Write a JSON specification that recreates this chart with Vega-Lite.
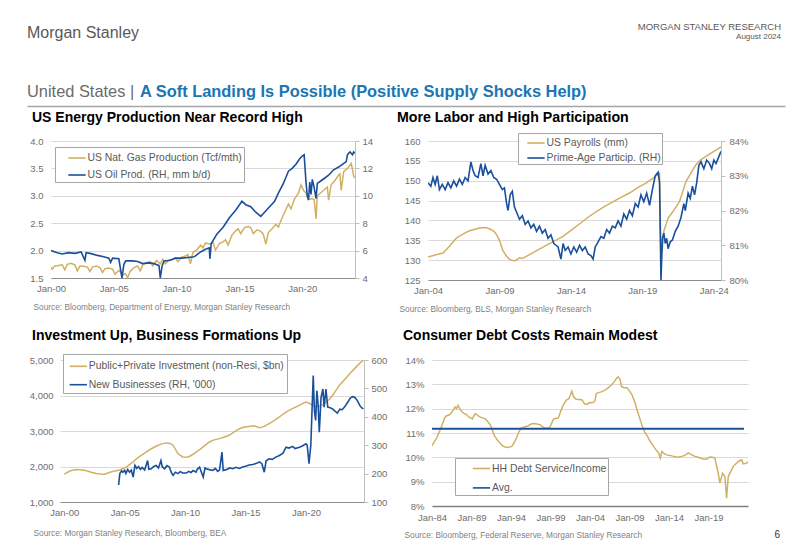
{
 "$schema": "https://vega.github.io/schema/vega-lite/v6.json",
 "background": "white",
 "padding": {"left": 27, "top": 21, "right": 10, "bottom": 5},
 "config": {
  "font": "Liberation Sans",
  "view": {"stroke": null},
  "axis": {"labelFont": "Liberation Sans", "labelColor": "#6e6e6e", "labelFontSize": 9.5, "labelOverlap": false, "labelFlush": false, "gridColor": "#d9d9d9", "domainColor": "#bfbfbf", "tickColor": "#bfbfbf", "titleFont": "Liberation Sans", "titleFontWeight": "normal", "titleColor": "#7f7f7f", "titleFontSize": 8.3},
  "legend": {"labelFont": "Liberation Sans", "labelFontSize": 10.4, "labelColor": "#595959", "labelLimit": 400, "strokeColor": "#a6a6a6", "fillColor": "white", "padding": 1.5, "symbolType": "stroke", "symbolSize": 300, "symbolStrokeWidth": 1.6, "labelOffset": 1, "rowPadding": 2, "symbolOffset": 11},
  "title": {"font": "Liberation Sans", "anchor": "start", "frame": "bounds"}
 },
 "datasets": {
  "gas": [{"t":2000.0,"v":1.70},{"t":2000.1,"v":1.66},{"t":2000.3,"v":1.72},{"t":2000.6,"v":1.73},{"t":2000.9,"v":1.74},{"t":2001.1,"v":1.65},{"t":2001.3,"v":1.75},{"t":2001.6,"v":1.77},{"t":2001.9,"v":1.74},{"t":2002.1,"v":1.63},{"t":2002.3,"v":1.72},{"t":2002.7,"v":1.71},{"t":2002.9,"v":1.70},{"t":2003.1,"v":1.62},{"t":2003.3,"v":1.70},{"t":2003.6,"v":1.72},{"t":2003.9,"v":1.69},{"t":2004.1,"v":1.60},{"t":2004.3,"v":1.67},{"t":2004.6,"v":1.68},{"t":2004.9,"v":1.66},{"t":2005.1,"v":1.57},{"t":2005.4,"v":1.64},{"t":2005.7,"v":1.55},{"t":2005.9,"v":1.58},{"t":2006.1,"v":1.51},{"t":2006.3,"v":1.62},{"t":2006.6,"v":1.69},{"t":2006.9,"v":1.72},{"t":2007.1,"v":1.63},{"t":2007.3,"v":1.74},{"t":2007.6,"v":1.78},{"t":2007.9,"v":1.80},{"t":2008.1,"v":1.72},{"t":2008.4,"v":1.82},{"t":2008.7,"v":1.76},{"t":2008.9,"v":1.84},{"t":2009.1,"v":1.76},{"t":2009.4,"v":1.83},{"t":2009.7,"v":1.84},{"t":2009.9,"v":1.87},{"t":2010.1,"v":1.80},{"t":2010.4,"v":1.88},{"t":2010.7,"v":1.90},{"t":2010.9,"v":1.93},{"t":2011.1,"v":1.76},{"t":2011.3,"v":1.97},{"t":2011.6,"v":2.01},{"t":2011.9,"v":2.10},{"t":2012.1,"v":2.05},{"t":2012.3,"v":2.14},{"t":2012.6,"v":2.12},{"t":2012.9,"v":2.14},{"t":2013.1,"v":2.01},{"t":2013.4,"v":2.13},{"t":2013.7,"v":2.16},{"t":2013.9,"v":2.20},{"t":2014.1,"v":2.10},{"t":2014.4,"v":2.28},{"t":2014.7,"v":2.36},{"t":2014.9,"v":2.40},{"t":2015.1,"v":2.31},{"t":2015.4,"v":2.42},{"t":2015.7,"v":2.44},{"t":2015.9,"v":2.42},{"t":2016.1,"v":2.31},{"t":2016.4,"v":2.38},{"t":2016.7,"v":2.35},{"t":2016.9,"v":2.30},{"t":2017.1,"v":2.12},{"t":2017.3,"v":2.33},{"t":2017.6,"v":2.40},{"t":2017.9,"v":2.48},{"t":2018.1,"v":2.43},{"t":2018.4,"v":2.60},{"t":2018.7,"v":2.75},{"t":2018.9,"v":2.85},{"t":2019.1,"v":2.76},{"t":2019.4,"v":2.95},{"t":2019.7,"v":3.05},{"t":2019.9,"v":3.20},{"t":2020.1,"v":3.10},{"t":2020.3,"v":3.05},{"t":2020.5,"v":2.93},{"t":2020.8,"v":2.95},{"t":2020.95,"v":2.93},{"t":2021.1,"v":2.58},{"t":2021.2,"v":3.00},{"t":2021.5,"v":3.06},{"t":2021.8,"v":3.12},{"t":2022.0,"v":3.16},{"t":2022.1,"v":2.92},{"t":2022.3,"v":3.20},{"t":2022.6,"v":3.28},{"t":2022.9,"v":3.38},{"t":2023.0,"v":3.40},{"t":2023.1,"v":3.10},{"t":2023.3,"v":3.44},{"t":2023.6,"v":3.50},{"t":2023.9,"v":3.59},{"t":2024.0,"v":3.48},{"t":2024.1,"v":3.35},{"t":2024.2,"v":3.33}],
  "oil": [{"t":2000.0,"v":6.0},{"t":2000.5,"v":5.85},{"t":2000.9,"v":5.75},{"t":2001.4,"v":5.85},{"t":2001.9,"v":5.8},{"t":2002.4,"v":5.9},{"t":2002.7,"v":5.3},{"t":2002.8,"v":5.85},{"t":2003.2,"v":5.78},{"t":2003.7,"v":5.65},{"t":2004.2,"v":5.55},{"t":2004.6,"v":5.45},{"t":2004.75,"v":5.15},{"t":2004.9,"v":5.45},{"t":2005.4,"v":5.4},{"t":2005.65,"v":4.0},{"t":2005.8,"v":5.0},{"t":2005.95,"v":5.25},{"t":2006.5,"v":5.25},{"t":2006.9,"v":5.2},{"t":2007.3,"v":5.05},{"t":2007.8,"v":5.1},{"t":2008.2,"v":5.05},{"t":2008.6,"v":4.9},{"t":2008.7,"v":4.0},{"t":2008.85,"v":4.9},{"t":2009.0,"v":5.25},{"t":2009.5,"v":5.3},{"t":2009.9,"v":5.45},{"t":2010.4,"v":5.45},{"t":2010.9,"v":5.5},{"t":2011.4,"v":5.55},{"t":2011.9,"v":5.9},{"t":2012.3,"v":6.1},{"t":2012.6,"v":6.2},{"t":2012.65,"v":5.4},{"t":2012.75,"v":6.5},{"t":2013.2,"v":7.2},{"t":2013.7,"v":7.7},{"t":2014.2,"v":8.4},{"t":2014.7,"v":8.95},{"t":2015.2,"v":9.6},{"t":2015.5,"v":9.35},{"t":2015.9,"v":9.2},{"t":2016.3,"v":8.8},{"t":2016.7,"v":8.5},{"t":2017.0,"v":8.8},{"t":2017.4,"v":9.2},{"t":2017.8,"v":9.6},{"t":2018.1,"v":10.2},{"t":2018.5,"v":10.9},{"t":2018.9,"v":11.8},{"t":2019.2,"v":12.0},{"t":2019.5,"v":12.3},{"t":2019.8,"v":12.7},{"t":2020.0,"v":12.9},{"t":2020.15,"v":13.0},{"t":2020.3,"v":11.0},{"t":2020.4,"v":10.0},{"t":2020.5,"v":9.7},{"t":2020.6,"v":11.0},{"t":2020.7,"v":10.1},{"t":2020.8,"v":11.2},{"t":2020.95,"v":10.6},{"t":2021.1,"v":9.8},{"t":2021.2,"v":10.9},{"t":2021.5,"v":11.1},{"t":2021.8,"v":11.3},{"t":2022.1,"v":11.5},{"t":2022.5,"v":11.9},{"t":2022.9,"v":12.1},{"t":2023.2,"v":12.3},{"t":2023.5,"v":12.5},{"t":2023.6,"v":13.0},{"t":2023.8,"v":13.2},{"t":2024.0,"v":13.0},{"t":2024.1,"v":13.2},{"t":2024.2,"v":13.1}],
  "pay": [{"t":2004.0,"v":130.8},{"t":2004.5,"v":131.3},{"t":2005.05,"v":131.8},{"t":2005.5,"v":133.5},{"t":2006.0,"v":135.6},{"t":2006.5,"v":136.7},{"t":2006.9,"v":137.4},{"t":2007.3,"v":137.8},{"t":2007.6,"v":138.1},{"t":2008.0,"v":138.2},{"t":2008.3,"v":137.9},{"t":2008.6,"v":137.3},{"t":2008.8,"v":136.4},{"t":2009.0,"v":135.0},{"t":2009.25,"v":132.3},{"t":2009.5,"v":131.0},{"t":2009.7,"v":130.2},{"t":2010.05,"v":129.8},{"t":2010.3,"v":130.3},{"t":2010.4,"v":130.6},{"t":2010.6,"v":130.4},{"t":2011.1,"v":131.4},{"t":2011.7,"v":132.6},{"t":2012.3,"v":133.8},{"t":2012.9,"v":134.9},{"t":2013.45,"v":136.0},{"t":2014.0,"v":137.5},{"t":2014.6,"v":139.1},{"t":2015.2,"v":140.8},{"t":2015.8,"v":142.3},{"t":2016.4,"v":143.6},{"t":2016.9,"v":144.6},{"t":2017.5,"v":145.8},{"t":2018.1,"v":146.9},{"t":2018.7,"v":148.3},{"t":2019.25,"v":149.4},{"t":2019.8,"v":150.8},{"t":2020.2,"v":151.9},{"t":2020.3,"v":130.4},{"t":2020.4,"v":133.0},{"t":2020.5,"v":137.3},{"t":2020.8,"v":140.6},{"t":2021.15,"v":142.3},{"t":2021.6,"v":144.8},{"t":2022.05,"v":149.8},{"t":2022.4,"v":152.0},{"t":2022.75,"v":154.0},{"t":2023.1,"v":155.3},{"t":2023.45,"v":156.1},{"t":2024.0,"v":157.4},{"t":2024.5,"v":158.5}],
  "pp": [{"t":2004.0,"v":82.8},{"t":2004.2,"v":82.7},{"t":2004.35,"v":82.95},{"t":2004.5,"v":82.75},{"t":2004.65,"v":83.0},{"t":2004.8,"v":82.6},{"t":2005.0,"v":82.75},{"t":2005.2,"v":82.6},{"t":2005.4,"v":82.8},{"t":2005.6,"v":82.65},{"t":2005.8,"v":82.85},{"t":2006.0,"v":82.7},{"t":2006.2,"v":82.9},{"t":2006.4,"v":82.75},{"t":2006.6,"v":82.95},{"t":2006.8,"v":82.85},{"t":2007.0,"v":83.4},{"t":2007.15,"v":83.15},{"t":2007.3,"v":83.0},{"t":2007.5,"v":82.95},{"t":2007.7,"v":83.35},{"t":2007.85,"v":83.0},{"t":2008.0,"v":83.3},{"t":2008.2,"v":83.05},{"t":2008.4,"v":83.15},{"t":2008.6,"v":82.95},{"t":2008.8,"v":82.9},{"t":2009.0,"v":82.75},{"t":2009.2,"v":82.6},{"t":2009.35,"v":82.65},{"t":2009.5,"v":82.2},{"t":2009.6,"v":82.0},{"t":2009.75,"v":82.45},{"t":2009.9,"v":82.55},{"t":2010.05,"v":82.1},{"t":2010.2,"v":81.95},{"t":2010.4,"v":81.75},{"t":2010.6,"v":81.85},{"t":2010.8,"v":81.6},{"t":2011.0,"v":81.7},{"t":2011.2,"v":81.5},{"t":2011.4,"v":81.6},{"t":2011.6,"v":81.4},{"t":2011.8,"v":81.55},{"t":2012.0,"v":81.35},{"t":2012.2,"v":81.45},{"t":2012.4,"v":81.2},{"t":2012.6,"v":81.3},{"t":2012.8,"v":81.05},{"t":2012.95,"v":81.0},{"t":2013.1,"v":80.95},{"t":2013.3,"v":80.6},{"t":2013.45,"v":81.05},{"t":2013.6,"v":80.85},{"t":2013.8,"v":80.95},{"t":2014.0,"v":80.75},{"t":2014.2,"v":80.95},{"t":2014.4,"v":80.8},{"t":2014.6,"v":81.0},{"t":2014.8,"v":80.85},{"t":2015.0,"v":80.95},{"t":2015.2,"v":80.75},{"t":2015.4,"v":80.7},{"t":2015.55,"v":80.6},{"t":2015.7,"v":80.95},{"t":2015.9,"v":81.1},{"t":2016.1,"v":81.25},{"t":2016.3,"v":81.2},{"t":2016.5,"v":81.45},{"t":2016.7,"v":81.35},{"t":2016.9,"v":81.55},{"t":2017.1,"v":81.5},{"t":2017.3,"v":81.7},{"t":2017.5,"v":81.55},{"t":2017.7,"v":81.9},{"t":2017.9,"v":81.75},{"t":2018.1,"v":82.0},{"t":2018.3,"v":81.85},{"t":2018.5,"v":82.2},{"t":2018.7,"v":82.1},{"t":2018.9,"v":82.45},{"t":2019.1,"v":82.25},{"t":2019.3,"v":82.5},{"t":2019.5,"v":82.15},{"t":2019.7,"v":82.6},{"t":2019.9,"v":83.0},{"t":2020.1,"v":83.1},{"t":2020.2,"v":82.8},{"t":2020.3,"v":80.0},{"t":2020.4,"v":81.2},{"t":2020.5,"v":81.35},{"t":2020.6,"v":81.05},{"t":2020.7,"v":81.2},{"t":2020.8,"v":80.9},{"t":2020.95,"v":81.1},{"t":2021.1,"v":81.15},{"t":2021.3,"v":81.4},{"t":2021.5,"v":81.55},{"t":2021.7,"v":81.8},{"t":2021.9,"v":82.2},{"t":2022.0,"v":82.0},{"t":2022.2,"v":82.5},{"t":2022.35,"v":82.35},{"t":2022.5,"v":82.7},{"t":2022.65,"v":82.45},{"t":2022.8,"v":82.8},{"t":2022.95,"v":83.3},{"t":2023.1,"v":83.4},{"t":2023.3,"v":83.2},{"t":2023.5,"v":83.45},{"t":2023.7,"v":83.35},{"t":2023.85,"v":83.2},{"t":2024.0,"v":83.45},{"t":2024.15,"v":83.35},{"t":2024.3,"v":83.5},{"t":2024.5,"v":83.7}],
  "inv": [{"t":2000.0,"v":1785},{"t":2000.5,"v":1880},{"t":2001.0,"v":1915},{"t":2001.5,"v":1900},{"t":2001.85,"v":1880},{"t":2002.3,"v":1830},{"t":2002.65,"v":1805},{"t":2003.0,"v":1790},{"t":2003.35,"v":1785},{"t":2003.9,"v":1850},{"t":2004.3,"v":1880},{"t":2004.6,"v":1900},{"t":2005.15,"v":1990},{"t":2005.6,"v":2100},{"t":2006.0,"v":2225},{"t":2006.4,"v":2320},{"t":2006.8,"v":2410},{"t":2007.2,"v":2500},{"t":2007.6,"v":2570},{"t":2008.0,"v":2630},{"t":2008.45,"v":2665},{"t":2008.75,"v":2650},{"t":2009.0,"v":2600},{"t":2009.4,"v":2365},{"t":2009.8,"v":2270},{"t":2010.1,"v":2260},{"t":2010.4,"v":2290},{"t":2010.8,"v":2380},{"t":2011.2,"v":2475},{"t":2011.6,"v":2580},{"t":2012.0,"v":2690},{"t":2012.4,"v":2750},{"t":2012.85,"v":2785},{"t":2013.25,"v":2830},{"t":2013.65,"v":2880},{"t":2014.1,"v":2980},{"t":2014.5,"v":3065},{"t":2014.9,"v":3110},{"t":2015.3,"v":3130},{"t":2015.7,"v":3150},{"t":2016.15,"v":3095},{"t":2016.55,"v":3130},{"t":2016.95,"v":3205},{"t":2017.4,"v":3300},{"t":2017.8,"v":3395},{"t":2018.2,"v":3500},{"t":2018.6,"v":3580},{"t":2019.0,"v":3650},{"t":2019.45,"v":3720},{"t":2019.75,"v":3780},{"t":2020.0,"v":3815},{"t":2020.3,"v":3780},{"t":2020.55,"v":3720},{"t":2020.8,"v":3700},{"t":2021.1,"v":3690},{"t":2021.4,"v":3740},{"t":2021.65,"v":3815},{"t":2021.9,"v":3880},{"t":2022.2,"v":4000},{"t":2022.5,"v":4150},{"t":2022.75,"v":4280},{"t":2023.2,"v":4450},{"t":2023.6,"v":4605},{"t":2024.0,"v":4750},{"t":2024.4,"v":4890},{"t":2024.75,"v":5000}],
  "nb": [{"t":2004.5,"v":160},{"t":2004.6,"v":200},{"t":2004.75,"v":210},{"t":2004.85,"v":205},{"t":2005.0,"v":212},{"t":2005.1,"v":200},{"t":2005.25,"v":215},{"t":2005.4,"v":205},{"t":2005.55,"v":212},{"t":2005.7,"v":188},{"t":2005.85,"v":229},{"t":2006.0,"v":218},{"t":2006.15,"v":225},{"t":2006.3,"v":215},{"t":2006.45,"v":222},{"t":2006.65,"v":213},{"t":2006.9,"v":246},{"t":2007.0,"v":215},{"t":2007.2,"v":217},{"t":2007.4,"v":225},{"t":2007.6,"v":229},{"t":2007.8,"v":220},{"t":2008.0,"v":246},{"t":2008.1,"v":225},{"t":2008.3,"v":217},{"t":2008.5,"v":228},{"t":2008.7,"v":223},{"t":2008.85,"v":205},{"t":2009.0,"v":194},{"t":2009.2,"v":205},{"t":2009.4,"v":200},{"t":2009.6,"v":207},{"t":2009.8,"v":202},{"t":2010.1,"v":202},{"t":2010.3,"v":208},{"t":2010.5,"v":204},{"t":2010.65,"v":211},{"t":2010.9,"v":205},{"t":2011.0,"v":215},{"t":2011.2,"v":223},{"t":2011.35,"v":205},{"t":2011.5,"v":188},{"t":2011.65,"v":220},{"t":2011.75,"v":217},{"t":2012.0,"v":214},{"t":2012.3,"v":211},{"t":2012.5,"v":218},{"t":2012.7,"v":208},{"t":2012.85,"v":213},{"t":2013.05,"v":276},{"t":2013.15,"v":211},{"t":2013.4,"v":214},{"t":2013.7,"v":220},{"t":2013.95,"v":217},{"t":2014.2,"v":222},{"t":2014.5,"v":218},{"t":2014.75,"v":223},{"t":2015.0,"v":226},{"t":2015.3,"v":230},{"t":2015.6,"v":232},{"t":2015.9,"v":236},{"t":2016.15,"v":241},{"t":2016.35,"v":235},{"t":2016.55,"v":205},{"t":2016.7,"v":245},{"t":2016.95,"v":252},{"t":2017.2,"v":250},{"t":2017.5,"v":258},{"t":2017.8,"v":264},{"t":2018.1,"v":272},{"t":2018.35,"v":293},{"t":2018.6,"v":290},{"t":2018.9,"v":296},{"t":2019.1,"v":288},{"t":2019.45,"v":293},{"t":2019.7,"v":297},{"t":2020.0,"v":305},{"t":2020.1,"v":300},{"t":2020.25,"v":235},{"t":2020.4,"v":300},{"t":2020.6,"v":545},{"t":2020.7,"v":420},{"t":2020.8,"v":387},{"t":2020.9,"v":492},{"t":2021.0,"v":445},{"t":2021.1,"v":346},{"t":2021.25,"v":469},{"t":2021.4,"v":498},{"t":2021.5,"v":434},{"t":2021.65,"v":498},{"t":2021.8,"v":434},{"t":2022.0,"v":432},{"t":2022.2,"v":428},{"t":2022.4,"v":420},{"t":2022.6,"v":413},{"t":2022.8,"v":427},{"t":2023.0,"v":425},{"t":2023.2,"v":435},{"t":2023.45,"v":451},{"t":2023.65,"v":465},{"t":2023.85,"v":471},{"t":2024.05,"v":468},{"t":2024.25,"v":457},{"t":2024.45,"v":440},{"t":2024.6,"v":432},{"t":2024.75,"v":428}],
  "ds": [{"t":1984.0,"v":10.48},{"t":1984.3,"v":10.65},{"t":1984.6,"v":10.8},{"t":1985.0,"v":11.1},{"t":1985.3,"v":11.35},{"t":1985.6,"v":11.62},{"t":1985.8,"v":11.7},{"t":1986.2,"v":11.75},{"t":1986.45,"v":11.83},{"t":1986.7,"v":11.95},{"t":1986.9,"v":12.07},{"t":1987.1,"v":12.0},{"t":1987.3,"v":12.13},{"t":1987.5,"v":12.0},{"t":1987.7,"v":11.9},{"t":1988.0,"v":11.82},{"t":1988.35,"v":11.76},{"t":1988.7,"v":11.65},{"t":1989.1,"v":11.58},{"t":1989.3,"v":11.7},{"t":1989.5,"v":11.8},{"t":1989.8,"v":11.72},{"t":1990.05,"v":11.66},{"t":1990.4,"v":11.62},{"t":1990.75,"v":11.58},{"t":1991.1,"v":11.45},{"t":1991.35,"v":11.35},{"t":1991.6,"v":11.15},{"t":1991.95,"v":10.86},{"t":1992.3,"v":10.7},{"t":1992.6,"v":10.59},{"t":1992.9,"v":10.48},{"t":1993.25,"v":10.42},{"t":1993.6,"v":10.4},{"t":1994.1,"v":10.45},{"t":1994.4,"v":10.6},{"t":1994.7,"v":10.8},{"t":1995.0,"v":11.05},{"t":1995.35,"v":11.21},{"t":1995.8,"v":11.26},{"t":1996.2,"v":11.3},{"t":1996.6,"v":11.38},{"t":1997.05,"v":11.39},{"t":1997.4,"v":11.36},{"t":1997.7,"v":11.34},{"t":1998.0,"v":11.25},{"t":1998.3,"v":11.21},{"t":1998.65,"v":11.22},{"t":1998.95,"v":11.25},{"t":1999.2,"v":11.45},{"t":1999.4,"v":11.58},{"t":1999.7,"v":11.6},{"t":2000.0,"v":11.62},{"t":2000.3,"v":11.9},{"t":2000.65,"v":12.17},{"t":2001.0,"v":12.35},{"t":2001.3,"v":12.4},{"t":2001.5,"v":12.55},{"t":2001.7,"v":12.72},{"t":2001.9,"v":12.5},{"t":2002.2,"v":12.4},{"t":2002.6,"v":12.38},{"t":2003.0,"v":12.36},{"t":2003.3,"v":12.2},{"t":2003.6,"v":12.17},{"t":2003.9,"v":12.25},{"t":2004.3,"v":12.24},{"t":2004.6,"v":12.3},{"t":2004.8,"v":12.62},{"t":2005.1,"v":12.66},{"t":2005.5,"v":12.7},{"t":2005.9,"v":12.76},{"t":2006.3,"v":12.85},{"t":2006.8,"v":13.0},{"t":2007.1,"v":13.12},{"t":2007.4,"v":13.27},{"t":2007.6,"v":13.3},{"t":2007.8,"v":13.2},{"t":2008.0,"v":12.9},{"t":2008.3,"v":12.86},{"t":2008.7,"v":12.86},{"t":2009.0,"v":12.72},{"t":2009.3,"v":12.58},{"t":2009.7,"v":12.24},{"t":2010.0,"v":11.9},{"t":2010.35,"v":11.55},{"t":2010.7,"v":11.2},{"t":2011.0,"v":11.0},{"t":2011.3,"v":10.85},{"t":2011.6,"v":10.66},{"t":2011.9,"v":10.52},{"t":2012.2,"v":10.38},{"t":2012.5,"v":10.25},{"t":2012.7,"v":10.18},{"t":2012.9,"v":9.97},{"t":2013.1,"v":10.24},{"t":2013.4,"v":10.15},{"t":2013.7,"v":10.1},{"t":2014.1,"v":10.08},{"t":2014.6,"v":10.04},{"t":2015.1,"v":10.0},{"t":2015.6,"v":10.04},{"t":2016.0,"v":10.08},{"t":2016.45,"v":10.18},{"t":2016.9,"v":10.1},{"t":2017.3,"v":10.04},{"t":2017.7,"v":10.0},{"t":2018.3,"v":9.93},{"t":2018.7,"v":9.92},{"t":2019.17,"v":10.01},{"t":2019.5,"v":10.0},{"t":2019.8,"v":9.97},{"t":2020.23,"v":9.35},{"t":2020.44,"v":8.94},{"t":2020.78,"v":9.35},{"t":2021.08,"v":9.21},{"t":2021.29,"v":8.32},{"t":2021.5,"v":9.21},{"t":2022.14,"v":9.63},{"t":2022.77,"v":9.83},{"t":2023.2,"v":9.9},{"t":2023.4,"v":9.73},{"t":2023.83,"v":9.76},{"t":2024.0,"v":9.83}],
  "avg": [{"t":1984.0,"v":11.17},{"t":2023.5,"v":11.17}]
 },
 "spacing": 5,
 "resolve": {"scale": {"color": "independent"}, "legend": {"color": "independent"}},
 "vconcat": [
  {
   "spacing": 0,
   "resolve": {"scale": {"color": "independent"}},
   "hconcat": [
    {"width": 379, "height": 37, "data": {"values": []}, "mark": "point",
     "title": {"text": "Morgan Stanley", "anchor": "start", "frame": "group", "fontSize": 16, "fontWeight": "normal", "color": "#595959", "offset": 0}},
    {"width": 379, "height": 36, "data": {"values": []}, "mark": "point",
     "title": {"text": "MORGAN STANLEY RESEARCH", "subtitle": "August 2024", "anchor": "end", "frame": "group", "fontSize": 9.5, "fontWeight": "normal", "color": "#595959", "subtitleFont": "Liberation Sans", "subtitleFontSize": 8, "subtitleColor": "#595959", "subtitlePadding": 2, "dx": -4, "offset": 0}}
   ]
  },
  {
   "spacing": 0,
   "resolve": {"scale": {"color": "independent", "x": "independent"}},
   "hconcat": [
    {"width": 113, "height": 1, "data": {"values": []}, "mark": "point",
     "encoding": {"x": {"field": "a", "type": "quantitative", "scale": {"domain": [0, 1]}, "axis": {"title": null, "labels": false, "ticks": false, "grid": false, "domainColor": "#a6a6a6", "domainWidth": 1.5}}},
     "title": {"text": "United States |", "anchor": "start", "frame": "group", "fontSize": 16.4, "fontWeight": "normal", "color": "#6b6b6b", "offset": 5}},
    {"width": 645, "height": 1, "data": {"values": []}, "mark": "point",
     "encoding": {"x": {"field": "a", "type": "quantitative", "scale": {"domain": [0, 1]}, "axis": {"title": null, "labels": false, "ticks": false, "grid": false, "domainColor": "#a6a6a6", "domainWidth": 1.5}}},
     "title": {"text": "A Soft Landing Is Possible (Positive Supply Shocks Help)", "anchor": "start", "frame": "group", "fontSize": 16.4, "fontWeight": "bold", "color": "#1A76B3", "offset": 5}}
   ]
  },
  {
   "spacing": 15,
   "resolve": {"scale": {"color": "independent"}, "legend": {"color": "independent"}},
   "vconcat": [
    {
     "spacing": 0,
     "resolve": {"scale": {"color": "independent"}, "legend": {"color": "independent"}},
     "hconcat": [
      {"width": 1, "height": 1, "data": {"values": []}, "mark": "point"},
      {
       "width": 304, "height": 137,
       "title": {"text": "US Energy Production Near Record High", "fontSize": 14, "fontWeight": "bold", "color": "#000000", "dx": 4, "offset": 11},
       "layer": [
        {"data": {"name": "gas"}, "mark": {"type": "line", "strokeWidth": 1.5, "clip": true},
         "encoding": {
          "x": {"field": "t", "type": "quantitative", "scale": {"domain": [2000, 2024.2], "nice": false, "zero": false},
                "axis": {"values": [2000, 2005, 2010, 2015, 2020], "labelExpr": "'Jan-' + slice(toString(datum.value), 2)", "grid": false, "ticks": false, "domainColor": "#8c8c8c", "labelPadding": 5, "title": "Source: Bloomberg, Department of Energy, Morgan Stanley Research", "titleX": -18, "titleY": 29, "titleAlign": "left", "titleBaseline": "middle"}},
          "y": {"field": "v", "type": "quantitative", "scale": {"domain": [1.5, 4], "nice": false, "zero": false},
                "axis": {"values": [1.5, 2, 2.5, 3, 3.5, 4], "format": ".1f", "title": null, "domain": false, "ticks": false, "labelPadding": 8, "minExtent": 23, "maxExtent": 23}},
          "color": {"datum": "US Nat. Gas Production (Tcf/mth)", "type": "nominal",
                    "scale": {"domain": ["US Nat. Gas Production (Tcf/mth)", "US Oil Prod. (RH, mm b/d)"], "range": ["#D1B064", "#1A4F9C"]},
                    "legend": {"orient": "none", "legendX": 4, "legendY": 6, "title": null}}
         }},
        {"data": {"name": "oil"}, "mark": {"type": "line", "strokeWidth": 1.6, "clip": true},
         "encoding": {
          "x": {"field": "t", "type": "quantitative"},
          "y": {"field": "v", "type": "quantitative", "scale": {"domain": [4, 14], "nice": false, "zero": false},
                "axis": {"orient": "right", "values": [4, 6, 8, 10, 12, 14], "title": null, "grid": false, "ticks": true, "tickSize": 4, "labelPadding": 3, "minExtent": 42, "maxExtent": 42}},
          "color": {"datum": "US Oil Prod. (RH, mm b/d)", "type": "nominal"}
         }}
       ],
       "resolve": {"scale": {"y": "independent"}}
      },
      {
       "width": 293, "height": 139,
       "title": {"text": "More Labor and High Participation", "fontSize": 14.2, "fontWeight": "bold", "color": "#000000", "dx": 0, "offset": 7},
       "layer": [
        {"data": {"name": "pay"}, "mark": {"type": "line", "strokeWidth": 1.5, "clip": true},
         "encoding": {
          "x": {"field": "t", "type": "quantitative", "scale": {"domain": [2004, 2024.5], "nice": false, "zero": false},
                "axis": {"values": [2004, 2009, 2014, 2019, 2024], "labelExpr": "'Jan-' + slice(toString(datum.value), 2)", "grid": false, "ticks": false, "domainColor": "#8c8c8c", "labelPadding": 5, "title": "Source: Bloomberg, BLS, Morgan Stanley Research", "titleX": -29, "titleY": 29, "titleAlign": "left", "titleBaseline": "middle"}},
          "y": {"field": "v", "type": "quantitative", "scale": {"domain": [125, 160], "nice": false, "zero": false},
                "axis": {"values": [125, 130, 135, 140, 145, 150, 155, 160], "title": null, "domain": false, "ticks": false, "labelPadding": 8, "minExtent": 31, "maxExtent": 31}},
          "color": {"datum": "US Payrolls (mm)", "type": "nominal",
                    "scale": {"domain": ["US Payrolls (mm)", "Prime-Age Particip. (RH)"], "range": ["#D1B064", "#1A4F9C"]},
                    "legend": {"orient": "none", "legendX": 90, "legendY": -8, "title": null, "padding": 0.5, "symbolOffset": 8, "rowPadding": 0}}
         }},
        {"data": {"name": "pp"}, "mark": {"type": "line", "strokeWidth": 1.6, "clip": true},
         "encoding": {
          "x": {"field": "t", "type": "quantitative"},
          "y": {"field": "v", "type": "quantitative", "scale": {"domain": [80, 84], "nice": false, "zero": false},
                "axis": {"orient": "right", "values": [80, 81, 82, 83, 84], "labelExpr": "datum.value + '%'", "title": null, "grid": false, "ticks": true, "tickSize": 4, "labelPadding": 4}},
          "color": {"datum": "Prime-Age Particip. (RH)", "type": "nominal"}
         }}
       ],
       "resolve": {"scale": {"y": "independent"}}
      }
     ]
    },
    {
     "spacing": 0,
     "resolve": {"scale": {"color": "independent"}, "legend": {"color": "independent"}},
     "title": {"text": "6", "orient": "bottom", "anchor": "end", "frame": "bounds", "fontSize": 10, "fontWeight": "normal", "color": "#333333", "offset": -8, "dx": 32},
     "hconcat": [
      {"width": 1, "height": 1, "data": {"values": []}, "mark": "point"},
      {
       "width": 304, "height": 142,
       "title": {"text": "Investment Up, Business Formations Up", "fontSize": 14, "fontWeight": "bold", "color": "#000000", "dx": 4, "offset": 10.5},
       "layer": [
        {"data": {"name": "inv"}, "mark": {"type": "line", "strokeWidth": 1.5, "clip": true},
         "encoding": {
          "x": {"field": "t", "type": "quantitative", "scale": {"domain": [1999.65, 2024.8], "nice": false, "zero": false},
                "axis": {"values": [2000, 2005, 2010, 2015, 2020], "labelExpr": "'Jan-' + slice(toString(datum.value), 2)", "grid": false, "ticks": false, "domainColor": "#8c8c8c", "labelPadding": 5, "title": "Source: Morgan Stanley Research, Bloomberg, BEA", "titleX": -27, "titleY": 31, "titleAlign": "left", "titleBaseline": "middle"}},
          "y": {"field": "v", "type": "quantitative", "scale": {"domain": [1000, 5000], "nice": false, "zero": false},
                "axis": {"values": [1000, 2000, 3000, 4000, 5000], "format": ",d", "title": null, "domain": false, "ticks": false, "labelPadding": 7, "minExtent": 32, "maxExtent": 32}},
          "color": {"datum": "Public+Private Investment (non-Resi, $bn)", "type": "nominal",
                    "scale": {"domain": ["Public+Private Investment (non-Resi, $bn)", "New Businesses (RH, '000)"], "range": ["#D1B064", "#1A4F9C"]},
                    "legend": {"orient": "none", "legendX": 3, "legendY": -6, "title": null, "padding": 2.8, "symbolOffset": 3, "rowPadding": 3.4}}
         }},
        {"data": {"name": "nb"}, "mark": {"type": "line", "strokeWidth": 1.6, "clip": true},
         "encoding": {
          "x": {"field": "t", "type": "quantitative"},
          "y": {"field": "v", "type": "quantitative", "scale": {"domain": [100, 600], "nice": false, "zero": false},
                "axis": {"orient": "right", "values": [100, 200, 300, 400, 500, 600], "title": null, "grid": false, "ticks": true, "tickSize": 4, "labelPadding": 3, "minExtent": 33, "maxExtent": 33}},
          "color": {"datum": "New Businesses (RH, '000)", "type": "nominal"}
         }}
       ],
       "resolve": {"scale": {"y": "independent"}}
      },
      {
       "width": 316, "height": 146,
       "title": {"text": "Consumer Debt Costs Remain Modest", "fontSize": 14, "fontWeight": "bold", "color": "#000000", "dx": 6, "offset": 12.5},
       "layer": [
        {"data": {"name": "ds"}, "mark": {"type": "line", "strokeWidth": 1.5, "clip": true},
         "encoding": {
          "x": {"field": "t", "type": "quantitative", "scale": {"domain": [1984, 2024], "nice": false, "zero": false},
                "axis": {"values": [1984, 1989, 1994, 1999, 2004, 2009, 2014, 2019], "labelExpr": "'Jan-' + slice(toString(datum.value), 2)", "grid": false, "ticks": false, "domainColor": "#7f7f7f", "domainWidth": 1.5, "labelPadding": 6, "title": "Source: Bloomberg, Federal Reserve, Morgan Stanley Research", "titleX": -28, "titleY": 29, "titleAlign": "left", "titleBaseline": "middle"}},
          "y": {"field": "v", "type": "quantitative", "scale": {"domain": [8, 14], "nice": false, "zero": false},
                "axis": {"values": [8, 9, 10, 11, 12, 13, 14], "labelExpr": "datum.value + '%'", "title": null, "domain": false, "ticks": false, "labelPadding": 8, "minExtent": 35, "maxExtent": 35}},
          "color": {"datum": "HH Debt Service/Income", "type": "nominal",
                    "scale": {"domain": ["HH Debt Service/Income", "Avg."], "range": ["#D1B064", "#1A4F9C"]},
                    "legend": {"orient": "none", "legendX": 23, "legendY": 98, "title": null, "symbolOffset": 16, "padding": 1, "rowPadding": 4.4}}
         }},
        {"data": {"name": "avg"}, "mark": {"type": "line", "strokeWidth": 2, "clip": true},
         "encoding": {
          "x": {"field": "t", "type": "quantitative", "scale": {"domain": [1984, 2024], "nice": false, "zero": false},
                "axis": {"values": [1984, 1989, 1994, 1999, 2004, 2009, 2014, 2019], "labelExpr": "'Jan-' + slice(toString(datum.value), 2)", "grid": false, "ticks": false, "domainColor": "#7f7f7f", "domainWidth": 1.5, "labelPadding": 6, "title": "Source: Bloomberg, Federal Reserve, Morgan Stanley Research", "titleX": -28, "titleY": 29, "titleAlign": "left", "titleBaseline": "middle"}},
          "y": {"field": "v", "type": "quantitative", "scale": {"domain": [8, 14], "nice": false, "zero": false},
                "axis": {"values": [8, 9, 10, 11, 12, 13, 14], "labelExpr": "datum.value + '%'", "title": null, "domain": false, "ticks": false, "labelPadding": 8, "minExtent": 35, "maxExtent": 35}},
          "color": {"datum": "Avg.", "type": "nominal"}
         }}
       ]
      }
     ]
    }
   ]
  }
 ]
}
